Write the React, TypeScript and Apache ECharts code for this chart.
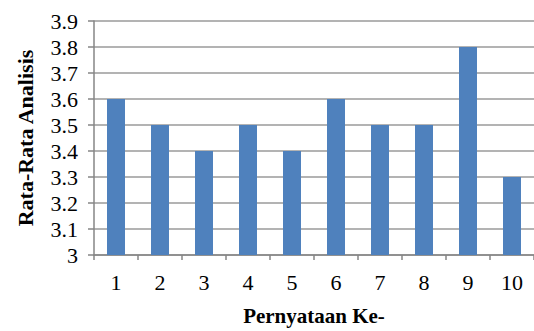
import React, { useEffect, useRef } from "react";
import * as echarts from "echarts";

const categories = ["1", "2", "3", "4", "5", "6", "7", "8", "9", "10"];
const values = [3.6, 3.5, 3.4, 3.5, 3.4, 3.6, 3.5, 3.5, 3.8, 3.3];
const yTitle = "Rata-Rata Analisis";
const xTitle = "Pernyataan Ke-";

export default function App() {
  const ref = useRef<HTMLDivElement>(null);
  useEffect(() => {
    const chart = echarts.init(ref.current!, null, { renderer: "svg" });
    const font = "'Liberation Serif', 'DejaVu Serif', serif";
    chart.setOption({
      animation: false,
      backgroundColor: "#ffffff",
      grid: { left: 94, top: 21, width: 446, height: 234, containLabel: false },
      xAxis: {
        type: "category",
        data: categories,
        name: xTitle,
        nameLocation: "middle",
        nameGap: 50,
        nameTextStyle: { fontFamily: font, fontSize: 21, fontWeight: "bold", color: "#000" },
        axisLine: { lineStyle: { color: "#868686", width: 1.5 } },
        axisTick: { show: true, length: 5, interval: 0, lineStyle: { color: "#868686", width: 1.5 } },
        axisLabel: { fontFamily: font, fontSize: 22, color: "#000", margin: 16, interval: 0 },
      },
      yAxis: {
        type: "value",
        min: 3,
        max: 3.9,
        interval: 0.1,
        name: yTitle,
        nameLocation: "middle",
        nameGap: 58,
        nameRotate: 90,
        nameTextStyle: { fontFamily: font, fontSize: 22, fontWeight: "bold", color: "#000" },
        axisLine: { show: true, lineStyle: { color: "#868686", width: 1.5 } },
        axisTick: { show: true, length: 6, lineStyle: { color: "#868686", width: 1.5 } },
        axisLabel: {
          fontFamily: font,
          fontSize: 22,
          color: "#000",
          margin: 16,
          formatter: (v: number) => String(Math.round(v * 10) / 10),
        },
        splitLine: { lineStyle: { color: "#9a9a9a", width: 1.5 } },
      },
      series: [
        {
          type: "bar",
          data: values,
          barWidth: 18,
          itemStyle: { color: "#4f81bd" },
        },
      ],
    });
    return () => chart.dispose();
  }, []);
  return (
    <div
      ref={ref}
      style={{ position: "fixed", left: 0, top: 0, width: 534, height: 331 }}
    />
  );
}
